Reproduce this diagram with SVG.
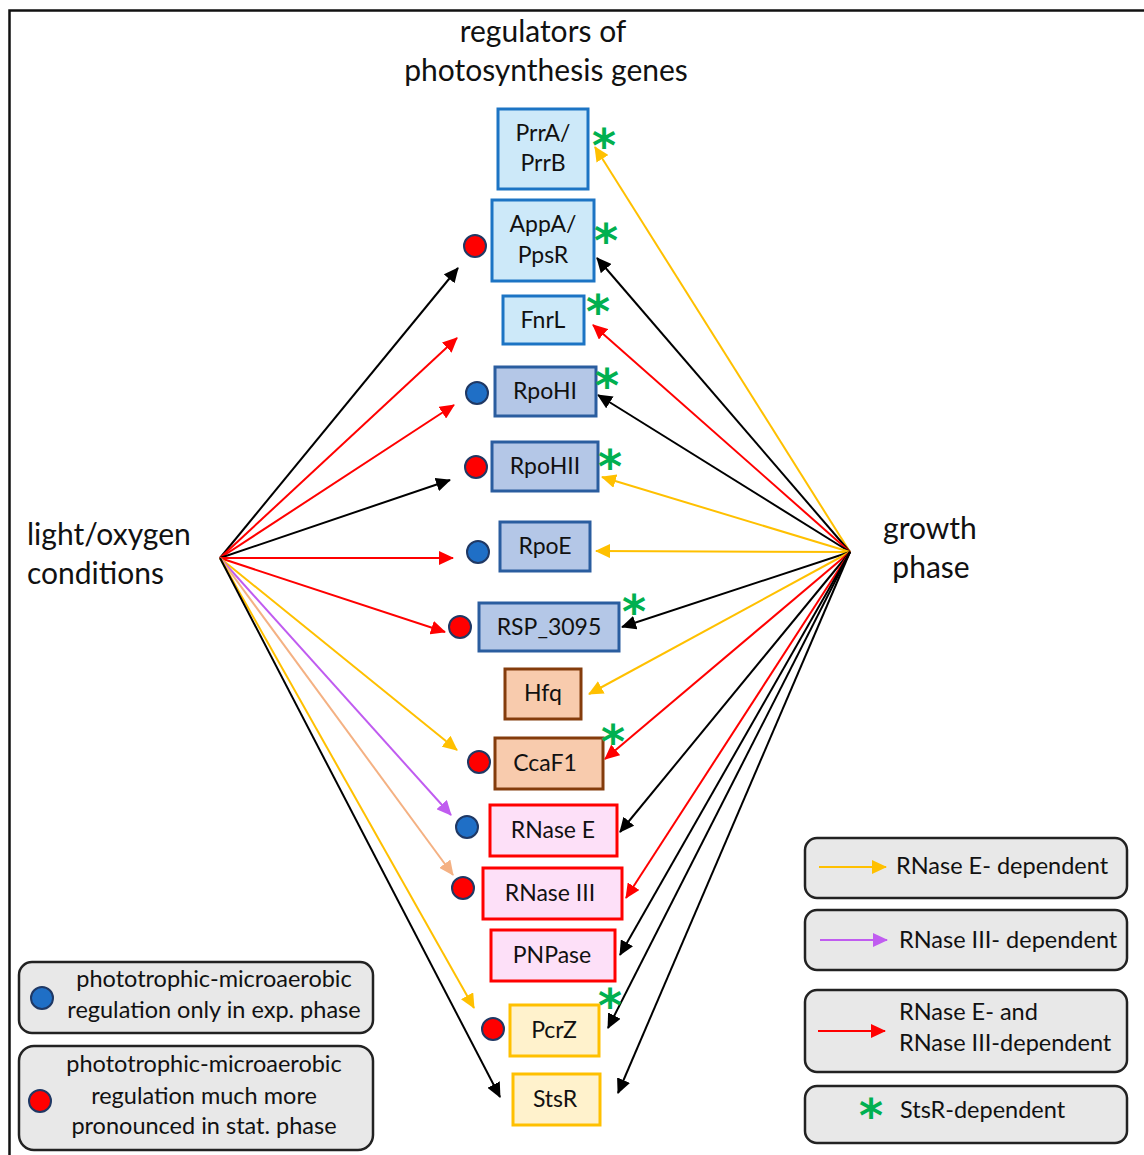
<svg xmlns="http://www.w3.org/2000/svg" width="1144" height="1155" viewBox="0 0 1144 1155">
<style>
text{font-family:Lato,"Liberation Sans",sans-serif;fill:#111;}
.t{font-size:23px;text-anchor:middle;}
.big{font-size:30px;}
.lg{font-size:23.5px;}
.blue1 rect{fill:#cde9f9;stroke:#1c74c4;stroke-width:3;}
.blue2 rect{fill:#b4c7e7;stroke:#2a5d9f;stroke-width:3;}
.brown rect{fill:#f8cbad;stroke:#843c0c;stroke-width:3;}
.pink rect{fill:#fde0f8;stroke:#ff0000;stroke-width:3;}
.yel rect{fill:#fff2cc;stroke:#ffc000;stroke-width:3;}
.dr{fill:#ff0000;stroke:#1f3864;stroke-width:2;}
.db{fill:#1f6fc6;stroke:#1f3864;stroke-width:2;}
.ast{font-family:"DejaVu Sans",sans-serif;font-weight:bold;font-size:46px;fill:#00b050;text-anchor:middle;}
.leg{fill:#e8e8e8;stroke:#222;stroke-width:2.5;}
.c{fill:none;stroke-width:2;}
.k{stroke:#000;marker-end:url(#mk);}
.r{stroke:#ff0000;marker-end:url(#mr);}
.y{stroke:#ffc000;marker-end:url(#my);}
.p{stroke:#c05cf0;marker-end:url(#mp);}
.o{stroke:#f4b183;marker-end:url(#mo);}
</style>
<defs>
<marker id="mk" markerUnits="userSpaceOnUse" markerWidth="16" markerHeight="14" refX="14" refY="7" orient="auto"><path d="M0,0 L15,7 L0,14 Z" fill="#000"/></marker>
<marker id="mr" markerUnits="userSpaceOnUse" markerWidth="16" markerHeight="14" refX="14" refY="7" orient="auto"><path d="M0,0 L15,7 L0,14 Z" fill="#ff0000"/></marker>
<marker id="my" markerUnits="userSpaceOnUse" markerWidth="16" markerHeight="14" refX="14" refY="7" orient="auto"><path d="M0,0 L15,7 L0,14 Z" fill="#ffc000"/></marker>
<marker id="mp" markerUnits="userSpaceOnUse" markerWidth="16" markerHeight="14" refX="14" refY="7" orient="auto"><path d="M0,0 L15,7 L0,14 Z" fill="#c05cf0"/></marker>
<marker id="mo" markerUnits="userSpaceOnUse" markerWidth="16" markerHeight="14" refX="14" refY="7" orient="auto"><path d="M0,0 L15,7 L0,14 Z" fill="#f4b183"/></marker>
</defs>
<rect width="1144" height="1155" fill="#fff"/>
<path d="M9.5,1160 V10.5 H1150" fill="none" stroke="#111" stroke-width="2.5"/>

<text class="big" x="543" y="42" text-anchor="middle">regulators of</text>
<text class="big" x="546" y="81" text-anchor="middle">photosynthesis genes</text>
<text class="big" x="27" y="545">light/oxygen</text>
<text class="big" x="27" y="584">conditions</text>
<text class="big" x="930" y="539" text-anchor="middle">growth</text>
<text class="big" x="931" y="578" text-anchor="middle">phase</text>

<g id="connectors">
<line class="c k" x1="220" y1="558" x2="458" y2="268"/>
<line class="c r" x1="220" y1="558" x2="457" y2="338"/>
<line class="c r" x1="220" y1="558" x2="454" y2="405"/>
<line class="c k" x1="220" y1="558" x2="450" y2="480"/>
<line class="c r" x1="220" y1="558" x2="453" y2="558"/>
<line class="c r" x1="220" y1="558" x2="445" y2="632"/>
<line class="c y" x1="220" y1="558" x2="457" y2="750"/>
<line class="c p" x1="220" y1="558" x2="451" y2="815"/>
<line class="c o" x1="220" y1="558" x2="453" y2="875"/>
<line class="c y" x1="220" y1="558" x2="474" y2="1008"/>
<line class="c k" x1="220" y1="558" x2="500" y2="1097"/>

<line class="c y" x1="850" y1="552" x2="595" y2="147"/>
<line class="c k" x1="850" y1="552" x2="597" y2="258"/>
<line class="c r" x1="850" y1="552" x2="593" y2="325"/>
<line class="c k" x1="850" y1="552" x2="598" y2="395"/>
<line class="c y" x1="850" y1="552" x2="602" y2="477"/>
<line class="c y" x1="850" y1="552" x2="596" y2="551"/>
<line class="c k" x1="850" y1="552" x2="622" y2="627"/>
<line class="c y" x1="850" y1="552" x2="589" y2="694"/>
<line class="c r" x1="850" y1="552" x2="605" y2="759"/>
<line class="c k" x1="850" y1="552" x2="620" y2="832"/>
<line class="c r" x1="850" y1="552" x2="626" y2="898"/>
<line class="c k" x1="850" y1="552" x2="620" y2="955"/>
<line class="c k" x1="850" y1="552" x2="608" y2="1028"/>
<line class="c k" x1="850" y1="552" x2="618" y2="1093"/>
</g>

<g id="PrrA" class="blue1"><rect x="498" y="109" width="90" height="80"/><text class="t" x="543" y="141">PrrA/</text><text class="t" x="543" y="171">PrrB</text><text class="ast" x="604" y="162">*</text></g>
<g id="AppA" class="blue1"><rect x="492" y="200" width="102" height="81"/><text class="t" x="543" y="232">AppA/</text><text class="t" x="543" y="263">PpsR</text><circle class="dr" cx="475" cy="246" r="11"/><text class="ast" x="606" y="257">*</text></g>
<g id="FnrL" class="blue1"><rect x="503" y="296" width="81" height="48"/><text class="t" x="543" y="328">FnrL</text><text class="ast" x="598" y="328">*</text></g>
<g id="RpoHI" class="blue2"><rect x="495" y="367" width="101" height="49"/><text class="t" x="545" y="399">RpoHI</text><circle class="db" cx="477" cy="393" r="11"/><text class="ast" x="607" y="402">*</text></g>
<g id="RpoHII" class="blue2"><rect x="492" y="442" width="106" height="49"/><text class="t" x="545" y="474">RpoHII</text><circle class="dr" cx="476" cy="467" r="11"/><text class="ast" x="610" y="483">*</text></g>
<g id="RpoE" class="blue2"><rect x="500" y="522" width="90" height="49"/><text class="t" x="545" y="554">RpoE</text><circle class="db" cx="478" cy="552" r="11"/></g>
<g id="RSP_3095" class="blue2"><rect x="479" y="603" width="140" height="48"/><text class="t" x="549" y="635">RSP_3095</text><circle class="dr" cx="460" cy="627" r="11"/><text class="ast" x="634" y="628">*</text></g>
<g id="Hfq" class="brown"><rect x="505" y="669" width="76" height="50"/><text class="t" x="543" y="701">Hfq</text></g>
<g id="CcaF1" class="brown"><rect x="495" y="738" width="108" height="51"/><text class="t" x="545" y="771">CcaF1</text><circle class="dr" cx="479" cy="762" r="11"/><text class="ast" x="613" y="758">*</text></g>
<g id="RNaseE" class="pink"><rect x="490" y="805" width="127" height="51"/><text class="t" x="553" y="838">RNase E</text><circle class="db" cx="467" cy="827" r="11"/></g>
<g id="RNaseIII" class="pink"><rect x="483" y="868" width="139" height="51"/><text class="t" x="550" y="901">RNase III</text><circle class="dr" cx="463" cy="888" r="11"/></g>
<g id="PNPase" class="pink"><rect x="491" y="930" width="124" height="51"/><text class="t" x="552" y="963">PNPase</text></g>
<g id="PcrZ" class="yel"><rect x="510" y="1005" width="89" height="51"/><text class="t" x="554" y="1038">PcrZ</text><circle class="dr" cx="493" cy="1029" r="11"/><text class="ast" x="610" y="1022">*</text></g>
<g id="StsR" class="yel"><rect x="513" y="1074" width="87" height="51"/><text class="t" x="555" y="1107">StsR</text></g>

<g id="legend-left">
<rect class="leg" x="19" y="962" width="354" height="71" rx="13"/>
<circle class="db" cx="42" cy="998" r="11"/>
<text class="lg" x="214" y="987" text-anchor="middle">phototrophic-microaerobic</text>
<text class="lg" x="214" y="1018" text-anchor="middle">regulation only in exp. phase</text>
<rect class="leg" x="19" y="1046" width="354" height="104" rx="15"/>
<circle class="dr" cx="40" cy="1101" r="11"/>
<text class="lg" x="204" y="1072" text-anchor="middle">phototrophic-microaerobic</text>
<text class="lg" x="204" y="1104" text-anchor="middle">regulation much more</text>
<text class="lg" x="204" y="1134" text-anchor="middle">pronounced in stat. phase</text>
</g>

<g id="legend-right">
<rect class="leg" x="805" y="838" width="322" height="60" rx="12"/>
<line class="c y" x1="819" y1="867" x2="886" y2="867"/>
<text class="lg" x="896" y="874">RNase E- dependent</text>
<rect class="leg" x="805" y="910" width="322" height="60" rx="12"/>
<line class="c p" x1="820" y1="940" x2="887" y2="940"/>
<text class="lg" x="899" y="948">RNase III- dependent</text>
<rect class="leg" x="805" y="990" width="322" height="82" rx="12"/>
<line class="c r" x1="818" y1="1031" x2="885" y2="1031"/>
<text class="lg" x="899" y="1020">RNase E- and</text>
<text class="lg" x="899" y="1051">RNase III-dependent</text>
<rect class="leg" x="805" y="1086" width="322" height="57" rx="12"/>
<text class="ast" x="871" y="1132">*</text>
<text class="lg" x="900" y="1118">StsR-dependent</text>
</g>
</svg>
